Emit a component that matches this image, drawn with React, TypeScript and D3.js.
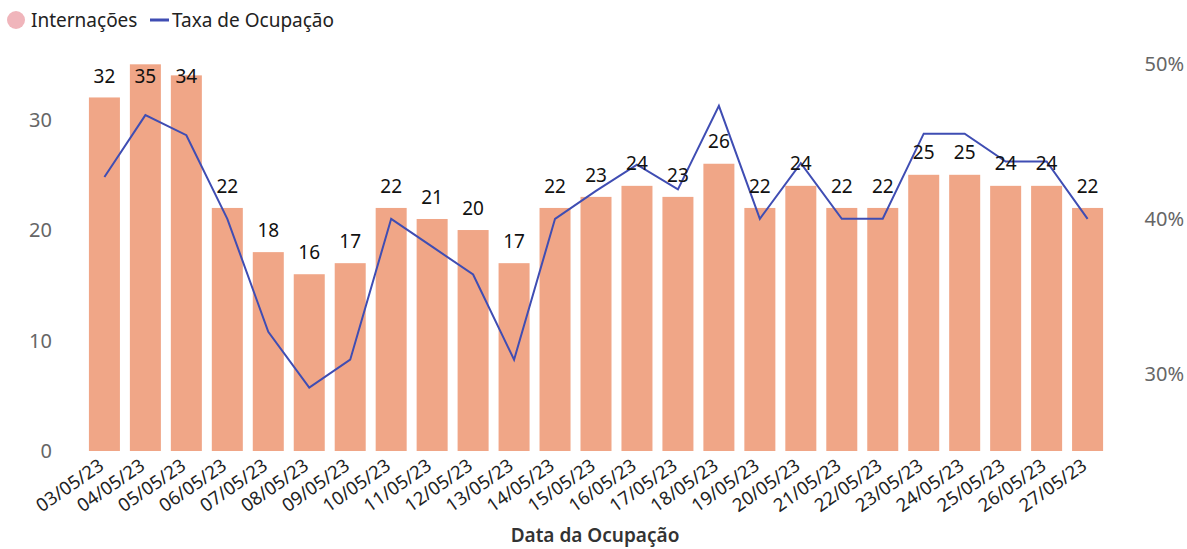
import React, { useEffect, useRef } from "react";
import * as d3 from "d3";

const dates = [
  "03/05/23", "04/05/23", "05/05/23", "06/05/23", "07/05/23", "08/05/23", "09/05/23",
  "10/05/23", "11/05/23", "12/05/23", "13/05/23", "14/05/23", "15/05/23", "16/05/23",
  "17/05/23", "18/05/23", "19/05/23", "20/05/23", "21/05/23", "22/05/23", "23/05/23",
  "24/05/23", "25/05/23", "26/05/23", "27/05/23",
];
const internacoes = [32, 35, 34, 22, 18, 16, 17, 22, 21, 20, 17, 22, 23, 24, 23, 26, 22, 24, 22, 22, 25, 25, 24, 24, 22];
const taxaOcupacao = [
  0.427, 0.467, 0.454, 0.4, 0.327, 0.291, 0.309, 0.4, 0.382, 0.364, 0.309, 0.4, 0.418,
  0.435, 0.419, 0.473, 0.4, 0.436, 0.4, 0.4, 0.455, 0.455, 0.437, 0.437, 0.4,
];
const leftTicks = [0, 10, 20, 30];
const rightTicks = [0.3, 0.4, 0.5];

const FONT = "'Segoe UI', 'Noto Sans', sans-serif";

const App: React.FC = () => {
  const svgRef = useRef<SVGSVGElement>(null);

  useEffect(() => {
    const svg = d3.select(svgRef.current!);
    svg.selectAll("*").remove();

    const top = 61;
    const bottom = 451;

    const x = d3
      .scaleBand<string>()
      .domain(dates)
      .range([84, 1108])
      .paddingInner(0.243)
      .paddingOuter(0.12);
    const yLeft = d3.scaleLinear().domain([0, 35.3]).range([bottom, top]);
    const yRight = d3.scaleLinear().domain([0.25, 0.5013]).range([bottom, top + 1]);

    // bars
    svg
      .append("g")
      .selectAll("rect")
      .data(internacoes)
      .join("rect")
      .attr("x", (_, i) => x(dates[i])!)
      .attr("y", (d) => yLeft(d))
      .attr("width", x.bandwidth())
      .attr("height", (d) => bottom - yLeft(d))
      .attr("fill", "#F0A687");

    // line
    const line = d3
      .line<number>()
      .x((_, i) => x(dates[i])! + x.bandwidth() / 2)
      .y((d) => yRight(d));
    svg
      .append("path")
      .datum(taxaOcupacao)
      .attr("d", line)
      .attr("fill", "none")
      .attr("stroke", "#3F4DB3")
      .attr("stroke-width", 2);

    // data labels
    svg
      .append("g")
      .selectAll("text")
      .data(internacoes)
      .join("text")
      .attr("x", (_, i) => x(dates[i])! + x.bandwidth() / 2)
      .attr("y", (d) => Math.max(yLeft(d) - 22, 76))
      .attr("dy", "0.35em")
      .attr("text-anchor", "middle")
      .attr("font-family", FONT)
      .attr("font-size", 19)
      .attr("fill", "#111")
      .text((d) => d);

    // left axis labels
    svg
      .append("g")
      .selectAll("text")
      .data(leftTicks)
      .join("text")
      .attr("x", 52)
      .attr("y", (d) => yLeft(d))
      .attr("dy", "0.35em")
      .attr("text-anchor", "end")
      .attr("font-family", FONT)
      .attr("font-size", 20)
      .attr("fill", "#666")
      .text((d) => d);

    // right axis labels
    svg
      .append("g")
      .selectAll("text")
      .data(rightTicks)
      .join("text")
      .attr("x", 1184)
      .attr("y", (d) => yRight(d))
      .attr("dy", "0.35em")
      .attr("text-anchor", "end")
      .attr("font-family", FONT)
      .attr("font-size", 20)
      .attr("fill", "#666")
      .text((d) => d3.format(".0%")(d));

    // x labels
    svg
      .append("g")
      .selectAll("text")
      .data(dates)
      .join("text")
      .attr(
        "transform",
        (d) => `translate(${x(d)! + x.bandwidth() / 2 - 3},${463}) rotate(-35)`
      )
      .attr("dy", "0.35em")
      .attr("text-anchor", "end")
      .attr("font-family", FONT)
      .attr("font-size", 18.5)
      .attr("fill", "#222")
      .text((d) => d);

    // axis title
    svg
      .append("text")
      .attr("x", 595)
      .attr("y", 542)
      .attr("text-anchor", "middle")
      .attr("font-family", FONT)
      .attr("font-size", 19)
      .attr("font-weight", 600)
      .attr("fill", "#333")
      .text("Data da Ocupação");

    // legend
    const lg = svg.append("g").attr("font-family", FONT).attr("font-size", 19).attr("fill", "#222");
    lg.append("circle").attr("cx", 16).attr("cy", 20).attr("r", 9).attr("fill", "#F0B5BB");
    lg.append("text").attr("x", 31).attr("y", 20).attr("dy", "0.35em").text("Internações");
    lg.append("line")
      .attr("x1", 150)
      .attr("x2", 169)
      .attr("y1", 20)
      .attr("y2", 20)
      .attr("stroke", "#3F4DB3")
      .attr("stroke-width", 3);
    lg.append("text").attr("x", 172).attr("y", 20).attr("dy", "0.35em").text("Taxa de Ocupação");
  }, []);

  return (
    <svg
      ref={svgRef}
      width={1187}
      height={549}
      style={{ position: "absolute", left: 0, top: 0, background: "#fff" }}
    />
  );
};

export default App;
